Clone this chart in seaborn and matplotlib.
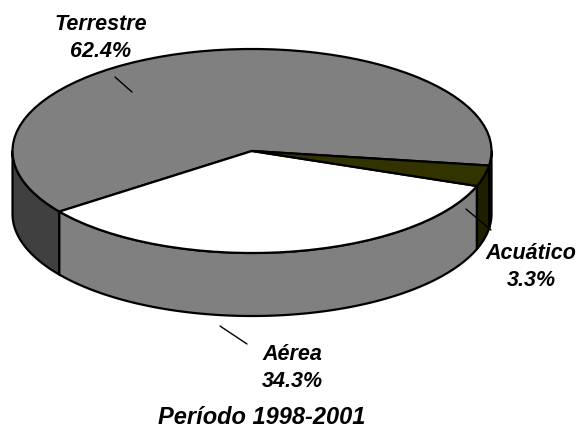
import matplotlib
matplotlib.use("Agg")
import matplotlib.pyplot as plt
import numpy as np
import seaborn as sns

labels = ["Terrestre", "Aérea", "Acuático"]
values = [62.4, 34.3, 3.3]
top_colors = ["#808080", "#ffffff", "#333300"]
wall_colors = ["#404040", "#808080", "#1f1f00"]
caption = "Período 1998-2001"

W, H = 578, 429
cx, cy, rx, ry = 252, 151, 239.5, 102
depth = 63 / ry

sns.set_theme(style="white")
plt.rcParams["font.family"] = ["Liberation Sans", "DejaVu Sans"]

fig = plt.figure(figsize=(W / 100, H / 100), dpi=100)
ax = fig.add_axes([0, 0, 1, 1])

wedges, _ = ax.pie(values, colors=top_colors, startangle=-8.2, radius=1,
                   wedgeprops={"edgecolor": "black", "linewidth": 1.6, "zorder": 3})
ax.set_aspect("auto")
ax.set_xlim(-cx / rx, (W - cx) / rx)
ax.set_ylim((cy - H) / ry, cy / ry)

# side wall, only the front half of the disc shows
for w, col in zip(wedges, wall_colors):
    for a, b in [(w.theta1, w.theta2), (w.theta1 - 360, w.theta2 - 360)]:
        lo, hi = max(a, -180), min(b, 0)
        if hi <= lo:
            continue
        t = np.radians(np.linspace(lo, hi, 120))
        x, y = np.cos(t), np.sin(t)
        ax.fill(np.r_[x, x[::-1]], np.r_[y, y[::-1] - depth], facecolor=col,
                edgecolor="black", linewidth=1.6, zorder=2, joinstyle="round")


def px(x, y):
    return x / W, 1 - y / H


leaders = [((115, 77), (132, 92)), ((220, 326), (247, 344)), ((466, 209), (491, 230))]
for (x0, y0), (x1, y1) in leaders:
    a, b = px(x0, y0), px(x1, y1)
    ax.plot([a[0], b[0]], [a[1], b[1]], transform=fig.transFigure, color="black",
            linewidth=1.0, zorder=5, clip_on=False)

label_pos = [(101, 38), (292, 368), (531, 267)]
for name, val, (x, y) in zip(labels, values, label_pos):
    fig.text(*px(x, y), f"{name}\n{val}%", ha="center", va="center", fontsize=15.5,
             fontweight="bold", fontstyle="italic", linespacing=1.35, color="black")

fig.text(*px(262, 423.5), caption, ha="center", va="baseline", fontsize=17,
         fontweight="bold", fontstyle="italic", color="black")

fig.savefig("out.png", dpi=100)
